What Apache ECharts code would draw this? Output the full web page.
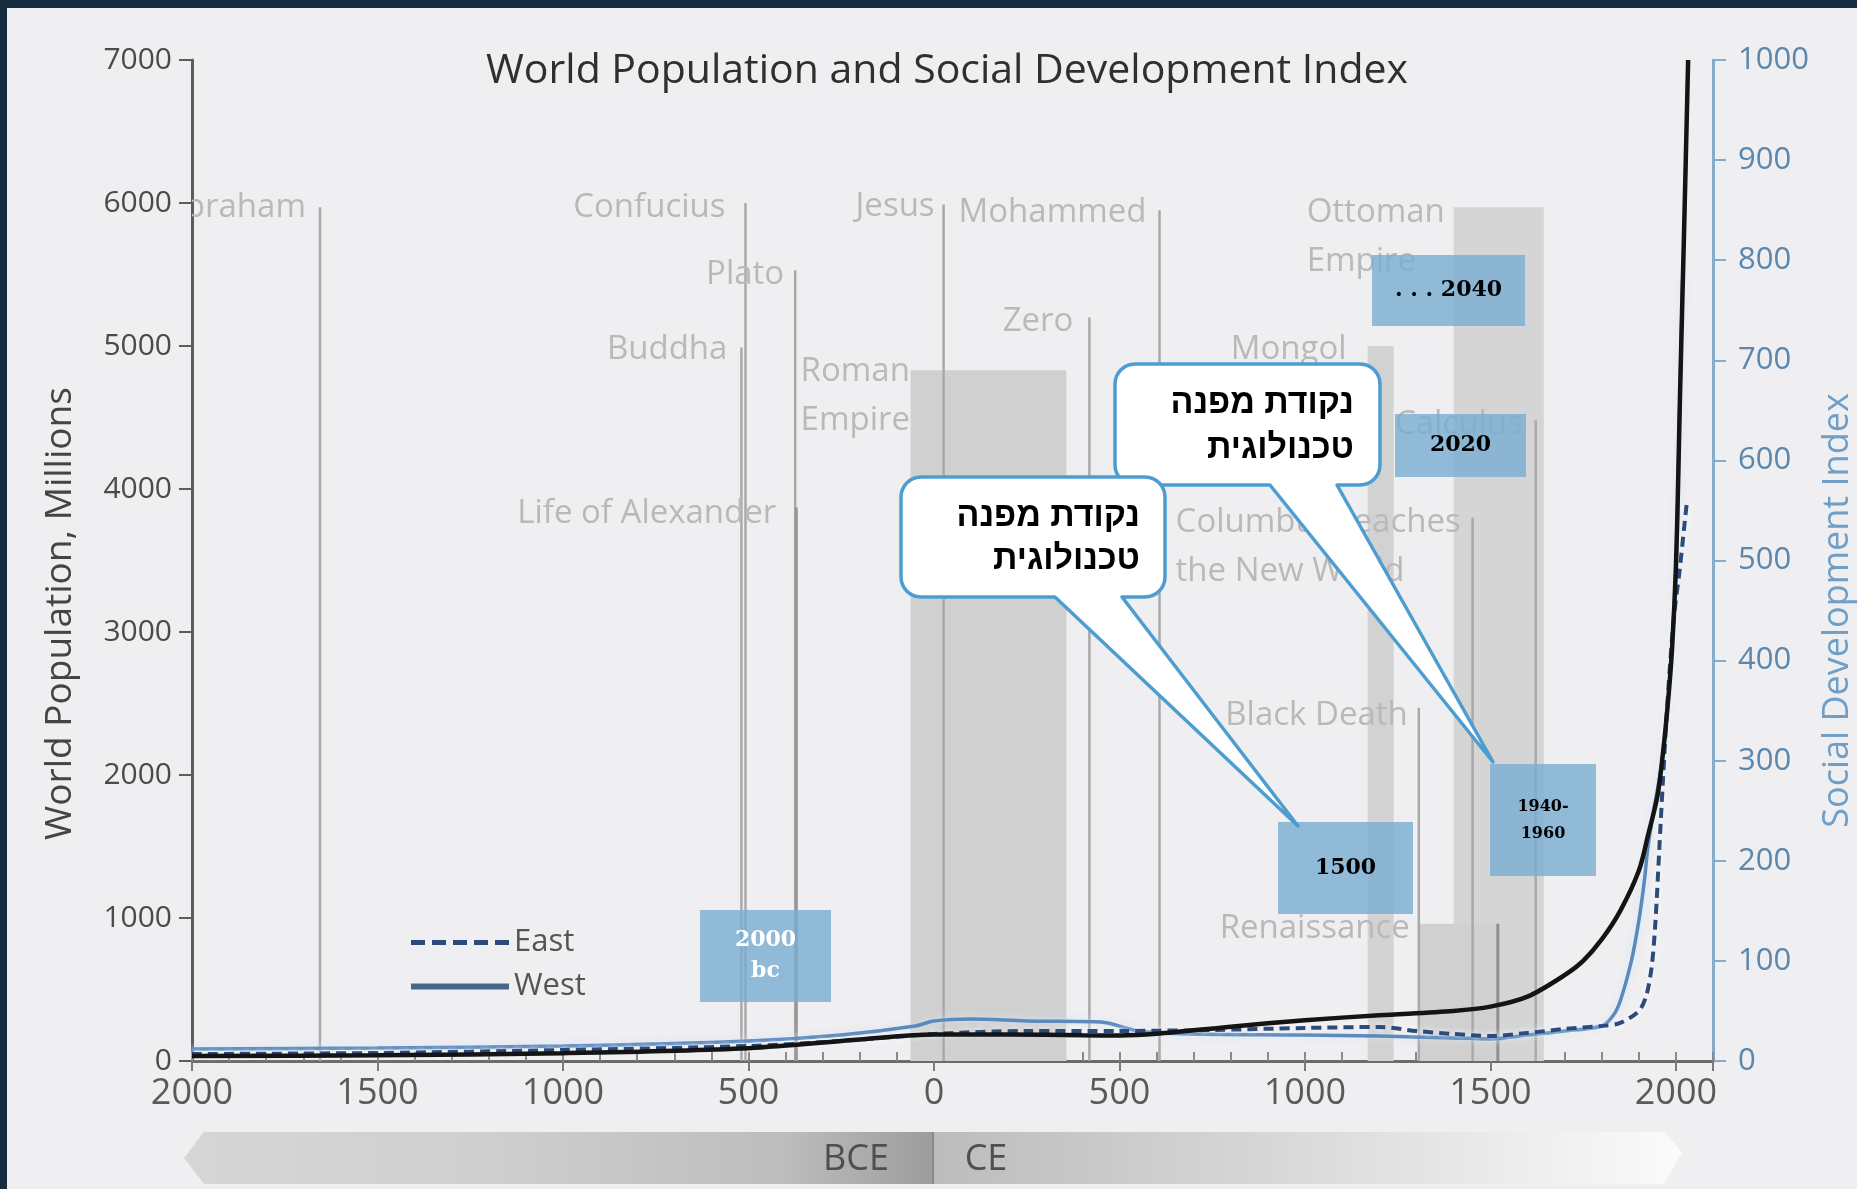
<!DOCTYPE html>
<html>
<head>
<meta charset="utf-8">
<script src="https://cdn.jsdelivr.net/npm/echarts@6/dist/echarts.min.js"></script>
<style>
html,body{margin:0;padding:0;background:#efeef1;overflow:hidden;}
#chart{width:1857px;height:1189px;}
</style>
</head>
<body>
<div id="chart"></div>
<script>
// ---------------- data ----------------
const popYears  = [-2000,-1500,-1000,-500,-200,0,200,400,500,600,800,1000,1200,1400,1500,1600,1700,1750,1800,1850,1900,1925,1950,1965,1980,1990,2000,2006,2011,2022,2033];
const popValues = [35,40,55,90,150,185,185,180,178,190,240,285,320,350,380,450,600,700,850,1050,1330,1580,1850,2150,2550,2900,3450,4050,4650,5800,7000];

const eastYears  = [-2000,-1500,-1000,-500,-250,0,250,500,750,1000,1200,1300,1400,1500,1600,1700,1800,1850,1900,1920,1935,1945,1955,1965,1975,1985,1995,2010,2020,2030];
const eastValues = [7,8,11,15,20,27,30,30,31,33,34,30,27,25,28,32,35,38,50,65,95,140,210,280,345,400,445,490,525,560];

const westYears  = [-2000,-1500,-1000,-500,-250,-50,0,100,250,450,550,700,1000,1200,1400,1500,1600,1700,1800,1830,1850,1880,1900,1915,1925,1940,1960,1980,2000,2010,2018];
const westValues = [12,13,15,20,26,35,40,42,40,39,30,27,26,25,23,22,26,30,35,45,60,100,140,180,215,250,293,364,490,650,780];

const eventNames = ['Abraham','Confucius','Buddha','Plato','Life of Alexander','Jesus','Zero','Mohammed','Black Death','Columbus reaches\nthe New World','Calculus'];
const eventYears = [-1655,-508,-519,-374,-371,26,419,608,1307,1452,1622];
const eventTops  = [5970,6000,4990,5530,3870,5990,5200,5950,2470,3800,4480];

const periodNames  = ['Roman\nEmpire','Mongol','Ottoman\nEmpire','Renaissance'];
const periodStarts = [-63,1169,1401,1307];
const periodEnds   = [357,1239,1644,1520];
const periodTops   = [4830,5000,5970,960];

const legendNames = ['East','West'];
const boxTexts = ['2000\nbc','1500','1940-\n1960','2020','. . . 2040'];
const bubbleText = 'נקודת מפנה\nטכנולוגית';
const eraTexts = ['BCE','CE'];

// ---------------- styles / layout (kept apart from data) ----------------
const FONT = "'Open Sans','Noto Sans',sans-serif";
const LABEL_GRAY = '#b9b9b9';
const eventLabelStyle = {
  'Abraham':[-14,0,'right'], 'Confucius':[-20,5,'right'], 'Buddha':[-14,2,'right'],
  'Plato':[-11,4,'right'], 'Life of Alexander':[-20,6,'right'], 'Jesus':[-9,2,'right'],
  'Zero':[-16,4,'right'], 'Mohammed':[-13,2,'right'], 'Black Death':[-11,8,'right'],
  'Columbus reaches\nthe New World':[-297,5,'left'], 'Calculus':[-13,4,'right']
};
const eventLineStyle = {'Life of Alexander':['#979797',3]};
const periodLabelStyle = {
  'Roman\nEmpire':[-110,1,'left'], 'Mongol':[-21,4,'right'],
  'Ottoman\nEmpire':[-147,5,'left'], 'Renaissance':[-9,5,'right']
};
const periodFill = {'Roman\nEmpire':'#d0d0d0','Mongol':'#d2d2d2','Ottoman\nEmpire':'#d5d5d5','Renaissance':'#d0d0d0'};
const LH = 49;

function zip(a,b){return a.map((v,i)=>[v,b[i]]);}

function textEl(txt, x, y, dy, align){
  const multi = txt.indexOf('\n')>=0;
  return {type:'text', x:x, y: multi ? y+dy-LH/2 : y+dy,
    style:{text:txt, fill:LABEL_GRAY, fontSize:33, fontFamily:FONT, align:align,
      verticalAlign: multi?'top':'middle', lineHeight:LH}};
}

function arcPts(cx,cy,r,a0,a1,out){
  const n=8;
  for(let k=0;k<=n;k++){const a=a0+(a1-a0)*k/n; out.push([cx+r*Math.cos(a), cy+r*Math.sin(a)]);}
}
function bubblePoints(x1,y1,x2,y2,r,tl,tr,tx,ty){
  const p=[]; const P=Math.PI;
  arcPts(x1+r,y1+r,r,P,1.5*P,p);
  arcPts(x2-r,y1+r,r,1.5*P,2*P,p);
  arcPts(x2-r,y2-r,r,0,0.5*P,p);
  p.push([tr,y2],[tx,ty],[tl,y2]);
  arcPts(x1+r,y2-r,r,0.5*P,P,p);
  return p;
}
const BOX_FILL = 'rgba(120,172,210,0.80)';
function box(x,y,w,h,txt,color,size,lh){
  return {type:'group', z:100, children:[
    {type:'rect', shape:{x:x,y:y,width:w,height:h}, style:{fill:BOX_FILL}, z:100},
    {type:'text', x:x+w/2, y:y+h/2, z:101, style:{text:txt, fill:color, fontSize:size, fontWeight:'bold',
      fontFamily:"'DejaVu Serif',serif", align:'center', verticalAlign:'middle', lineHeight:lh}}
  ]};
}
const DASH_ICON = 'path://M0,0h14v5h-14zM21,0h14v5h-14zM42,0h14v5h-14zM63,0h14v5h-14zM84,0h14v5h-14z';

const chart = echarts.init(document.getElementById('chart'), null, {renderer:'canvas'});

const hiddenAxis = {show:false, axisLine:{show:false, onZero:false}, axisTick:{show:false}, axisLabel:{show:false}, splitLine:{show:false}};

const option = {
  backgroundColor:'#efeef1',
  animation:false,
  title:{text:'World Population and Social Development Index', left:942, top:46, textAlign:'center',
    textStyle:{fontSize:41, fontWeight:'normal', color:'#2f2f2f', fontFamily:FONT}},
  legend:{orient:'vertical', left:406, top:922, itemWidth:98, itemHeight:6, itemGap:13,
    selectedMode:false, textStyle:{fontSize:31, color:'#555', fontFamily:FONT},
    data:[{name:legendNames[0], icon:DASH_ICON},{name:legendNames[1], icon:'rect'}]},
  grid:[
    {left:192, right:144, top:60, bottom:128, containLabel:false, outerBoundsMode:'none'},
    {left:192, right:144, top:60, bottom:128, containLabel:false, outerBoundsMode:'none'}
  ],
  xAxis:[
    {type:'value', gridIndex:0, min:-2000, max:2100, interval:100,
      axisLine:{show:true, onZero:false, lineStyle:{color:'#6b6b6b', width:3}},
      axisTick:{show:true, inside:true, length:9, lineStyle:{color:'#8a8a8a', width:2}},
      axisLabel:{interval:0, margin:15, fontSize:36, color:'#5a5a5a', fontFamily:FONT,
        formatter:function(v){return (v%500===0 && v<=2000)? String(Math.abs(v)) : '';}},
      splitLine:{show:false}},
    {type:'value', gridIndex:1, min:-2000, max:2100, interval:500,
      axisLine:{show:false, onZero:false}, axisTick:{show:true, inside:false, length:10, lineStyle:{color:'#7a7a7a', width:2}},
      axisLabel:{show:false}, splitLine:{show:false}}
  ],
  yAxis:[
    {type:'value', gridIndex:0, position:'left', min:0, max:7000, interval:1000,
      name:'World Population, Millions', nameLocation:'middle', nameRotate:90, nameGap:113,
      nameTextStyle:{fontSize:37, color:'#444', fontFamily:FONT, padding:[0,106,0,0]},
      axisLine:{show:true, onZero:false, lineStyle:{color:'#5c5c5c', width:3}},
      axisTick:{show:true, length:13, lineStyle:{color:'#5c5c5c', width:2}},
      axisLabel:{margin:20, fontSize:30, color:'#4a4a4a', fontFamily:FONT, formatter:function(v){return String(v);}},
      splitLine:{show:false}},
    {type:'value', gridIndex:0, position:'right', min:0, max:1000, interval:100,
      name:'Social Development Index', nameLocation:'middle', nameRotate:90, nameGap:89,
      nameTextStyle:{fontSize:36, color:'#6f9fc7', fontFamily:FONT, padding:[0,100,0,0]},
      axisLine:{show:true, onZero:false, lineStyle:{color:'#84acca', width:3}},
      axisTick:{show:true, length:13, lineStyle:{color:'#84acca', width:2}},
      axisLabel:{margin:25, fontSize:31, color:'#5b87ad', fontFamily:FONT, formatter:function(v){return String(v);}},
      splitLine:{show:false}},
    Object.assign({type:'value', gridIndex:1, min:0, max:7000, position:'left'}, hiddenAxis)
  ],
  series:[
    {type:'custom', name:'periods', xAxisIndex:0, yAxisIndex:0, z:1, clip:true, silent:true,
      data: periodNames.map((n,i)=>[periodStarts[i], periodEnds[i], periodTops[i]]),
      renderItem:function(params, api){
        const i = params.dataIndex, n = periodNames[i];
        const tl = api.coord([api.value(0), api.value(2)]);
        const br = api.coord([api.value(1), 0]);
        const ls = periodLabelStyle[n];
        const ch = [{type:'rect', shape:{x:tl[0], y:tl[1], width:br[0]-tl[0], height:br[1]-tl[1]},
          style:{fill:periodFill[n]}}];
        if(n==='Renaissance'){
          ch.push({type:'line', shape:{x1:br[0],y1:tl[1],x2:br[0],y2:br[1]}, style:{stroke:'#8f8f8f', lineWidth:3}});
        }
        ch.push(textEl(n, tl[0]+ls[0], tl[1], ls[1], ls[2]));
        return {type:'group', children:ch};
      }},
    {type:'custom', name:'events', xAxisIndex:0, yAxisIndex:0, z:2, clip:true, silent:true,
      data: eventNames.map((n,i)=>[eventYears[i], eventTops[i]]),
      renderItem:function(params, api){
        const i = params.dataIndex, n = eventNames[i];
        const top = api.coord([api.value(0), api.value(1)]);
        const bot = api.coord([api.value(0), 0]);
        const ls = eventLabelStyle[n];
        const st = eventLineStyle[n] || ['#a9a9a9', 2.5];
        return {type:'group', children:[
          {type:'line', shape:{x1:top[0],y1:top[1],x2:bot[0],y2:bot[1]}, style:{stroke:st[0], lineWidth:st[1]}},
          textEl(n, top[0]+ls[0], top[1], ls[1], ls[2])
        ]};
      }},
    {type:'line', name:'West', xAxisIndex:0, yAxisIndex:1, z:3, symbol:'none', smooth:0.3,
      data: zip(westYears, westValues),
      itemStyle:{color:'#46688f'},
      lineStyle:{color:'#5a89bc', width:3.5, shadowColor:'rgba(215,232,248,0.95)', shadowBlur:7}},
    {type:'line', name:'East', xAxisIndex:0, yAxisIndex:1, z:4, symbol:'none', smooth:0.3,
      data: zip(eastYears, eastValues),
      itemStyle:{color:'#2c4b7c'},
      lineStyle:{color:'#2c4b7c', width:4, type:[10,6], shadowColor:'rgba(255,255,255,0.95)', shadowBlur:6}},
    {type:'line', name:'World Population', xAxisIndex:0, yAxisIndex:0, z:5, symbol:'none', smooth:0.3,
      data: zip(popYears, popValues),
      lineStyle:{color:'#141414', width:4.5}}
  ],
  graphic:[
    {type:'rect', shape:{x:0,y:0,width:1857,height:8}, style:{fill:'#172b41'}, z:200},
    {type:'rect', shape:{x:0,y:0,width:7,height:1189}, style:{fill:'#172b41'}, z:200},
    {type:'polygon', z:10, shape:{points:[[184,1158],[204,1132],[1664,1132],[1682,1152],[1664,1184],[204,1184]]},
      style:{fill:{type:'linear', x:0, y:0, x2:1, y2:0, colorStops:[
        {offset:0, color:'#d6d6d6'},{offset:0.2, color:'#cfcfcf'},{offset:0.4, color:'#bdbdbd'},
        {offset:0.499, color:'#9d9d9d'},{offset:0.5, color:'#bcbcbc'},{offset:0.7, color:'#d4d4d4'},
        {offset:0.9, color:'#eeeeee'},{offset:1, color:'#fbfbfb'}]}}},
    {type:'line', z:11, shape:{x1:933,y1:1132,x2:933,y2:1184}, style:{stroke:'#8a8a8a', lineWidth:2}},
    {type:'text', z:12, x:856, y:1160, style:{text:eraTexts[0], fill:'#4f4f4f', fontSize:36, fontFamily:FONT, align:'center', verticalAlign:'middle'}},
    {type:'text', z:12, x:986, y:1160, style:{text:eraTexts[1], fill:'#4f4f4f', fontSize:36, fontFamily:FONT, align:'center', verticalAlign:'middle'}},
    box(700,910,131,92,boxTexts[0],'#ffffff',22,31),
    box(1278,822,135,92,boxTexts[1],'#000000',22,28),
    box(1490,764,106,112,boxTexts[2],'#000000',16,27),
    box(1395,414,131,63,boxTexts[3],'#000000',22,28),
    box(1372,255,153,71,boxTexts[4],'#000000',22,28),
    {type:'polygon', z:120, shape:{points:bubblePoints(1115,364,1380,485,20,1270,1337,1493,762)},
      style:{fill:'#ffffff', stroke:'#4d9dd1', lineWidth:3.5, lineJoin:'round'}},
    {type:'text', z:121, x:1354, y:426, style:{text:bubbleText, fill:'#000', fontSize:34, fontWeight:'bold',
      fontFamily:"'Liberation Sans','DejaVu Sans',sans-serif", align:'right', verticalAlign:'middle', lineHeight:45}},
    {type:'polygon', z:130, shape:{points:bubblePoints(901,477,1165,597,20,1055,1122,1298,826)},
      style:{fill:'#ffffff', stroke:'#4d9dd1', lineWidth:3.5, lineJoin:'round'}},
    {type:'text', z:131, x:1140, y:538, style:{text:bubbleText, fill:'#000', fontSize:34, fontWeight:'bold',
      fontFamily:"'Liberation Sans','DejaVu Sans',sans-serif", align:'right', verticalAlign:'middle', lineHeight:43}}
  ]
};
chart.setOption(option);
</script>
</body>
</html>
